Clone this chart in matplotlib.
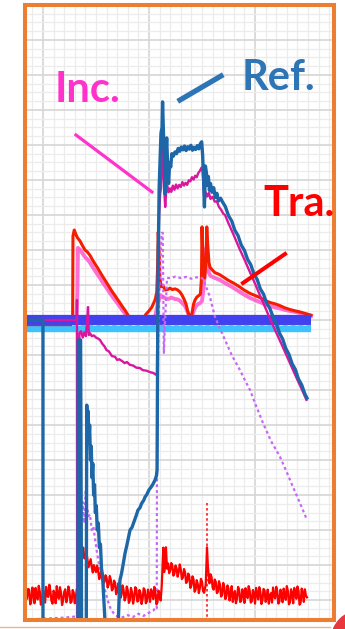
import numpy as np
import matplotlib
matplotlib.use('Agg')
import matplotlib.pyplot as plt
from matplotlib.lines import Line2D
from matplotlib.patches import Rectangle, Circle

# time in us (100 us per major division), signal in % (10 per division)
# reflected wave (Ref.)
ref_pts = [(-16, 0.0), (0, 0.0), (0, -95), (33, -95), (33.3, -5.7), (35.5, -5.7), (36.5, -95), (40.8, -95),
           (41.3, -24.3), (42.0, -31), (42.6, -26), (43.3, -35), (44.0, -30), (44.8, -40), (45.5, -36),
           (46.3, -45), (47.0, -41), (47.8, -50), (48.6, -47), (49.4, -55), (50.3, -53), (51.2, -60),
           (52.2, -58), (53.2, -65), (54.2, -64), (55.2, -71), (56.2, -73), (57.3, -79), (58.5, -86),
           (59.5, -92), (70.5, -92), (71.2, -84.9), (72.0, -78), (72.6, -74.3), (74, -72.5), (75.5, -70),
           (77.4, -66.6), (79, -64.5), (80.5, -62.3), (82.1, -60), (84, -59.2), (86, -57.5), (88, -55.8),
           (89.6, -54.3), (91.5, -53.6), (93, -52.4), (95, -51.5), (96.2, -50.6), (98, -49.8), (100, -48.5),
           (101.5, -47.9), (103.5, -47.0), (105.7, -45.7), (107, -44.5), (107.6, -42.9),
           (108.3, 0), (108.8, 20), (109.6, 38), (110.4, 45), (111.3, 53.4), (112.3, 55), (112.8, 62.3),
           (113.6, 54), (114.3, 46.6), (115.1, 36), (115.9, 47), (116.7, 52), (117.6, 44), (118.5, 39),
           (119.5, 45), (120.5, 43.7), (121.5, 47.5), (123, 46.8), (124.5, 48), (126, 47.5), (127.5, 49),
           (129, 48.2), (130.5, 49.4), (132, 48.6), (133.5, 49.7), (135, 48.4), (136.5, 49.5), (138, 48.8),
           (139.5, 49.9), (141, 48.5), (142.5, 49.3), (144, 48.7), (145.5, 49.8), (147, 48.9), (148.5, 50.4),
           (149.7, 50.9), (150.6, 47), (151.5, 40), (152.3, 32.3), (153.2, 44), (154.2, 42), (155, 38.5),
           (156, 41), (157, 37), (158, 39), (159.4, 36.5), (161, 37.8), (162.5, 35), (164, 36.2), (165.5, 34),
           (167.5, 34.8), (169, 33.9), (172, 32.4), (175, 29.8), (178, 28.3), (181, 25.6), (184, 24.1),
           (187, 21.4), (190, 19.9), (193, 17.3), (196, 15.8), (199, 13.1), (202, 11.6), (205, 8.9),
           (208, 7.4), (211, 4.8), (214, 3.3), (217, 0.9), (220, -1.0), (223, -3.7), (226, -5.4),
           (229, -8.1), (232, -9.8), (235, -12.5), (238, -14.1), (241, -16.9), (244, -18.5), (247, -21.1),
           (249, -22.3)]

# incident wave (Inc.)
inc_pts = [(-16, 0), (32, 0), (32.1, 5.7), (32.4, -95), (34.0, -95), (34.4, -3.7), (36, -3.2), (37.5, -5.0),
           (39, -3.5), (40.5, -4.6), (41.8, 0.5), (42.5, 3.7), (43.2, -4.3), (44.5, -3.8), (46, -4.6),
           (48, -4.4), (50, -5.0), (52, -5.3), (53.8, -5.7), (56, -6.8), (58, -7.5), (60, -8.6), (62, -8.9),
           (63.2, -9.4), (65, -10.3), (68, -10.5), (70, -11.4), (72, -11.2), (75, -11.8), (77, -12.3),
           (79.2, -12.0), (82, -12.8), (85, -13.0), (88, -13.6), (91.5, -13.7), (94, -14.3), (98, -14.5),
           (101, -14.9), (104, -15.1), (106.5, -15.6), (107.5, -15.2),
           (108.2, 10), (109.5, 30), (110.5, 36), (111.5, 38), (112.5, 45), (113.0, 50.9), (113.8, 44),
           (114.6, 36), (115.3, 32.3), (116.2, 36.5), (117.2, 38.5), (118.5, 36.5), (119.8, 37.6), (121, 36.6),
           (122.5, 38.4), (124, 37.2), (125.5, 38.7), (127, 37.6), (128.5, 38.6), (130, 38.0), (131.5, 39.4),
           (133, 38.4), (134.5, 39.2), (136, 38.6), (137.5, 39.9), (139, 39.6), (140.5, 40.8), (142, 40.1),
           (143.5, 41.2), (145, 40.8), (146.5, 42.0), (148, 42.6), (149.5, 43.5), (150.4, 43.7), (151.3, 39),
           (152.3, 33.4), (153.5, 36.5), (155, 35.3), (156.5, 36.3), (158, 34.6), (160, 35.2), (162, 33.8),
           (164, 33.9), (166, 32.3), (168, 31.5), (170, 30.4), (171.7, 30.0), (175, 27.6), (180, 24.2),
           (185, 20.6), (190, 17.3), (195, 13.8), (200, 10.4), (205, 6.8), (210, 3.3), (215, -0.2),
           (220, -3.6), (225, -6.9), (230, -10.3), (235, -13.7), (240, -17.1), (245, -20.4), (248.5, -22.8)]

# transmitted wave (Tra.)
tra_pts = [(-16, 0.6), (28, 0.6), (28.3, 24), (29.5, 25.7), (31, 24.5), (32.5, 23.5), (34.9, 22.6), (37, 21.4),
           (39.6, 20.0), (42, 19.4), (44.3, 18.5), (46.5, 17.3), (49.1, 16.0), (51.5, 14.9), (53.8, 13.7),
           (56, 12.6), (58.5, 11.4), (61, 10.2), (63.2, 9.1), (65.5, 8.0), (67.9, 7.0), (70.3, 5.9),
           (72.6, 4.9), (75, 3.8), (77.4, 2.8), (80.2, 1.4), (82.1, 0.6), (95, 0.6), (97, 1.6), (100, 2.6),
           (102.5, 3.6), (104.5, 4.9), (106, 6.0), (107.3, 8.0), (108, 14), (108.7, 25.1), (109.5, 20),
           (110.3, 12), (111.5, 9.5), (113.2, 9.8), (115.1, 8.6), (117.5, 8.7), (119.8, 9.1), (122, 8.7),
           (124.5, 8.9), (127, 8.6), (129.2, 8.0), (131, 7.2), (133, 6.0), (135, 4.5), (136.5, 2.5),
           (138, 1.2), (139.5, 0.8), (140.6, 2.0), (142, 4.5), (143.4, 5.7), (145, 6.5), (147, 7.0),
           (148.5, 7.4), (149.5, 12), (150.0, 26.6), (150.6, 20), (151.5, 13), (152.5, 12), (153.7, 17),
           (154.5, 26.6), (155.3, 22), (156.5, 16.5), (157.5, 15.1), (160, 14.2), (162.3, 13.5), (165, 13.2),
           (167, 12.9), (170, 12.3), (175, 11.3), (180, 10.5), (185.8, 9.4), (190, 8.5), (195.3, 7.6),
           (200, 7.0), (204.7, 6.4), (210, 5.5), (214.2, 5.0), (219, 4.6), (223.6, 4.1), (228, 3.5),
           (233, 3.0), (238, 2.6), (242.5, 2.3), (247, 1.9), (252.8, 1.4)]

# second transmitted gauge
tra2_pts = [(31.5, 0), (32.5, 8), (33, 20.6), (34.5, 20.2), (36.5, 19.4), (39.6, 18.0), (42, 17.3), (44.3, 16.4),
            (46.5, 15.3), (49.1, 14.1), (51.5, 13.0), (53.8, 12.0), (56, 10.9), (58.5, 9.8), (61, 8.7),
            (63.2, 7.7), (65.5, 6.7), (67.9, 5.7), (70.3, 4.8), (72.6, 3.8), (75, 2.8), (77.4, 1.8),
            (79.5, 0.8), (81, 0.3), (105, 0.3), (106.5, 2), (108, 4.3), (109.5, 6), (111, 7.1), (113, 6.5),
            (115, 6.3), (118, 6.0), (121, 6.4), (124.5, 6.0), (127, 5.9), (129.2, 5.5), (131.5, 4.8),
            (134, 4.0), (136, 2.6), (138, 1.0), (140, 0.5), (142, 2.5), (144, 3.8), (146, 4.5), (148.5, 4.9),
            (150, 5.5), (151.5, 9), (153, 15), (154, 20.6), (155, 17), (156.5, 13.5), (158, 12.6),
            (162.3, 12.0), (167, 11.4), (172, 10.5), (178, 9.5), (185.8, 8.0), (190, 7.2), (195.3, 6.3),
            (200, 5.7), (204.7, 5.1), (210, 4.5), (214.2, 4.0), (219, 3.6), (223.6, 3.3), (228, 2.9),
            (233, 2.6), (238, 2.3), (242.5, 2.0), (247, 1.6), (252.8, 1.1)]

# dotted violet channel
vio_pts = [(-16, -85.6), (0, -85.3), (20, -85.0), (33, -84.6), (34.2, -70), (34.9, -56.3), (36, -60),
           (37.5, -52), (38.8, -58), (40.3, -48.6), (41.5, -53), (43, -56), (44.3, -55.5), (46, -60),
           (47.5, -59), (49.1, -62.5), (51, -66.5), (53.8, -71.4), (56, -74.5), (58.5, -77.1), (61, -80),
           (63.2, -82), (66, -83.5), (70, -84.6), (75, -84.9), (80, -84.3), (85, -84.8), (90, -83.9),
           (95, -84.5), (100, -83.6), (104, -83.0), (106.5, -82), (107.3, -82.3), (107.5, -47.7),
           (108.2, -20), (109, 0), (110.5, 15), (112, 24.9), (113, 24.9), (114, -9.4), (115.5, 2),
           (117, 12.0), (120, 12.0), (125, 12.4), (130, 12.0), (135, 12.3), (140, 11.8), (145, 12.2),
           (150, 12.0), (152.5, 10.5), (155, 8.6), (157.5, 6.6), (160, 3.5), (162.3, 0.9), (166, -1.8),
           (171.7, -5.7), (178, -10.0), (185.8, -14.3), (190, -16.9), (195.3, -20.0), (201, -24.5),
           (207.5, -29.4), (215, -34.5), (223.6, -39.1), (230, -43.5), (235.8, -47.7), (242, -52.0),
           (249, -57.1)]

# amplified transmitted signal (noisy trace at the bottom)
amp_pts = [(-15, -79.5), (-14, -76.8), (-13, -77.0), (-12, -81.2), (-11, -80.2), (-10, -76.4), (-9, -78.1),
           (-8, -80.9), (-7, -76.5), (-6, -78.9), (-5, -79.8), (-4, -75.9), (-3, -77.6), (-2, -81.3),
           (-1, -80.5), (0, -77.0), (1, -78.0), (2, -80.7), (3, -76.2), (4, -78.8), (5, -79.1), (6, -75.6),
           (7, -77.4), (8, -80.2), (9, -81.0), (10, -77.3), (11, -78.3), (12, -80.9), (13, -76.0), (14, -78.6),
           (15, -79.6), (16, -76.3), (17, -77.8), (18, -81.4), (19, -80.1), (20, -77.7), (21, -76.9),
           (22, -80.6), (23, -79.2), (24, -76.1), (25, -77.5), (26, -80.8), (27, -80.4), (28, -77.1),
           (29, -77.9), (30, -80.9), (31, -79.0), (32, -76.8), (33, -78.2), (34.6, -78.5), (35, -62.0),
           (36, -63.5), (37, -66.0), (38, -65.0), (39, -68.1), (40, -67.8), (41, -66.4), (42, -68.5),
           (43, -70.6), (44, -69.4), (45, -68.3), (46, -70.6), (47, -72.1), (48, -70.0), (49, -71.2),
           (50, -72.0), (51, -70.1), (52, -71.3), (53, -74.0), (54, -73.1), (55, -71.5), (56, -72.4),
           (57, -75.2), (58, -74.8), (59, -72.9), (60, -73.6), (61, -76.4), (62, -75.5), (63, -73.1),
           (64, -74.2), (65, -77.2), (66, -76.8), (67, -74.4), (68, -75.0), (69, -78.3), (70, -77.5),
           (71, -75.2), (72, -76.1), (73, -79.4), (74, -78.6), (75, -75.8), (76, -76.9), (77, -80.1),
           (78, -79.3), (79, -76.1), (80, -77.2), (81, -80.8), (82, -80.0), (83, -76.5), (84, -77.8),
           (85, -81.0), (86, -79.5), (87, -76.3), (88, -76.7), (89, -80.4), (90, -80.2), (91, -77.1),
           (92, -78.0), (93, -81.1), (94, -79.6), (95, -76.6), (96, -77.1), (97, -80.9), (98, -80.3),
           (99, -77.0), (100, -78.4), (101, -80.5), (102, -76.9), (103, -78.1), (104, -79.7), (105, -76.2),
           (106, -77.5), (107, -81.2), (108, -80.6), (109, -77.3), (110, -78.2), (111, -80.1), (112, -76.0),
           (113.5, -65.0), (114.3, -72.0), (115, -70.5), (116, -64.9), (117, -71.0), (118, -69.5),
           (119, -72.3), (120, -71.5), (121, -69.4), (122, -70.2), (123, -73.0), (124, -72.4), (125, -70.1),
           (126, -70.9), (127, -73.3), (128, -72.0), (129, -69.8), (130, -71.2), (131, -74.0), (132, -73.5),
           (133, -71.1), (134, -72.0), (135, -75.1), (136, -74.6), (137, -72.4), (138, -73.2), (139, -76.5),
           (140, -75.8), (141, -73.2), (142, -74.0), (143, -77.6), (144, -77.0), (145, -74.3), (146, -75.4),
           (147, -78.0), (148, -76.5), (149, -73.9), (150, -74.8), (151, -77.4), (152, -77.9), (153.5, -75.5),
           (154.7, -64.9), (155.5, -70.0), (156.3, -73.0), (157, -75.2), (158, -72.6), (159, -73.4),
           (160, -76.4), (161, -77.0), (162, -74.1), (163, -74.8), (164, -78.0), (165, -77.6), (166, -74.6),
           (167, -75.6), (168, -79.0), (169, -78.4), (170, -75.1), (171, -76.2), (172, -79.7), (173, -79.0),
           (174, -75.8), (175, -76.8), (176, -80.1), (177, -78.2), (178, -76.0), (179, -80.5), (180, -78.8),
           (181, -77.4), (182, -80.9), (183, -79.6), (184, -76.2), (185, -77.0), (186, -80.5), (187, -80.2),
           (188, -76.9), (189, -78.1), (190, -80.8), (191, -76.6), (192, -78.5), (193, -79.4), (194, -76.0),
           (195, -77.3), (196, -80.7), (197, -80.3), (198, -77.1), (199, -78.0), (200, -81.0), (201, -76.5),
           (202, -78.4), (203, -79.8), (204, -76.3), (205, -77.6), (206, -81.1), (207, -80.1), (208, -76.8),
           (209, -77.2), (210, -80.5), (211, -79.3), (212, -77.0), (213, -81.0), (214, -78.9), (215, -78.0),
           (216, -80.7), (217, -76.4), (218, -78.8), (219, -79.5), (220, -76.2), (221, -77.6), (222, -81.0),
           (223, -80.4), (224, -77.0), (225, -78.3), (226, -80.6), (227, -76.7), (228, -78.6), (229, -79.9),
           (230, -76.0), (231, -77.4), (232, -81.2), (233, -80.6), (234, -76.9), (235, -78.1), (236, -80.9),
           (237, -76.5), (238, -78.3), (239, -79.6), (240, -76.1), (241, -77.3), (242, -81.3), (243, -80.8),
           (244, -76.7), (245, -78.0), (246, -80.5), (247, -76.9), (248, -78.7), (249, -79.2)]

# trigger marker (dashed red) and zero bands
trig_t = 154.7
trig_y = (-52.3, -87)
band_t = (-16, 253)


def xy(pts):
    a = np.array(pts, dtype=float)
    return a[:, 0], a[:, 1]


W, H = 345, 629
fig = plt.figure(figsize=(W / 100, H / 100), dpi=100)
fig.patch.set_facecolor('white')

# axes occupies the inside of the orange frame
ax = fig.add_axes([26 / W, 1 - 618 / H, (332 - 26) / W, (618 - 7) / H])
ax.set_xlim(-16, 272.6)
ax.set_ylim(-85.1, 89.4)

ax.set_xticks(np.arange(0, 272, 100))
ax.set_xticks(np.arange(-10, 272, 10), minor=True)
ax.set_yticks(np.arange(-80, 90, 10))
ax.set_yticks(np.arange(-85, 90, 2.5), minor=True)
ax.grid(which='minor', color='#ececec', lw=0.9)
ax.grid(which='major', color='#d6d6d6', lw=1.2)
ax.set_axisbelow(True)
ax.tick_params(which='both', length=0, labelbottom=False, labelleft=False)
for s in ax.spines.values():
    s.set_visible(False)

# transmitted signals sit under the zero bands
ax.plot(*xy(tra2_pts), color='#ff55cc', lw=2.8, alpha=0.85, zorder=2)
ax.plot(*xy(tra_pts), color='#f51d00', lw=2.2, zorder=3)

# zero bands
ax.plot(band_t, [0, 0], color='#4141f0', lw=7.4, solid_capstyle='butt', zorder=4)
ax.plot(band_t, [-2.6, -2.6], color='#3cc2ff', lw=4.6, solid_capstyle='butt', zorder=4)
ax.plot(band_t, [-1.4, -1.4], color='#e8a040', lw=0.8, ls=(0, (4, 3)), zorder=4)
ax.plot([-16, 26], [-1.3, -1.3], color='#e82010', lw=0.9, zorder=4)

ax.plot(*xy(vio_pts), color='#c866f7', lw=1.6, ls=(0, (1.3, 1.3)), zorder=5)
ax.plot([trig_t, trig_t], trig_y, color='#ff3a3a', lw=1.4, ls=(0, (1.3, 1.3)), zorder=5)
ax.plot(*xy(amp_pts), color='#ff0000', lw=1.6, zorder=6)
ax.plot(*xy(inc_pts), color='#d8179e', lw=1.7, zorder=6)
ax.plot(*xy(ref_pts), color='#1d66a8', lw=2.4, zorder=7)

# labels and pointer lines
fx = lambda px: px / W
fy = lambda py: 1 - py / H
font = dict(fontsize=30, fontweight='bold', family=['Lato', 'DejaVu Sans'], ha='center', va='center')
fig.text(fx(88), fy(90), 'Inc.', color='#ff33cc', **font)
fig.text(fx(278), fy(78), 'Ref.', color='#2e75b6', **font)
fig.text(fx(299), fy(204), 'Tra.', color='#ff0000', **font)
fig.add_artist(Line2D([fx(76), fx(152)], [fy(135), fy(192)], color='#ff33cc', lw=2.3))
fig.add_artist(Line2D([fx(180), fx(221)], [fy(100), fy(76)], color='#2e75b6', lw=3.8))
fig.add_artist(Line2D([fx(243), fx(285)], [fy(283), fy(254)], color='#ff0000', lw=2.9))

# orange frame and page decorations
fig.add_artist(Rectangle((fx(24.5), fy(620)), (334 - 24.5) / W, (620 - 5) / H, transform=fig.transFigure,
                         fill=False, edgecolor='#ed7d31', lw=2.9))
fig.add_artist(Line2D([0, fx(330)], [fy(627), fy(627)], color='#f4b183', lw=1.0))
fig.add_artist(Circle((3.62, -0.12), 0.31, transform=fig.dpi_scale_trans, color='#e8383d'))

plt.savefig('out.png', dpi=100)
